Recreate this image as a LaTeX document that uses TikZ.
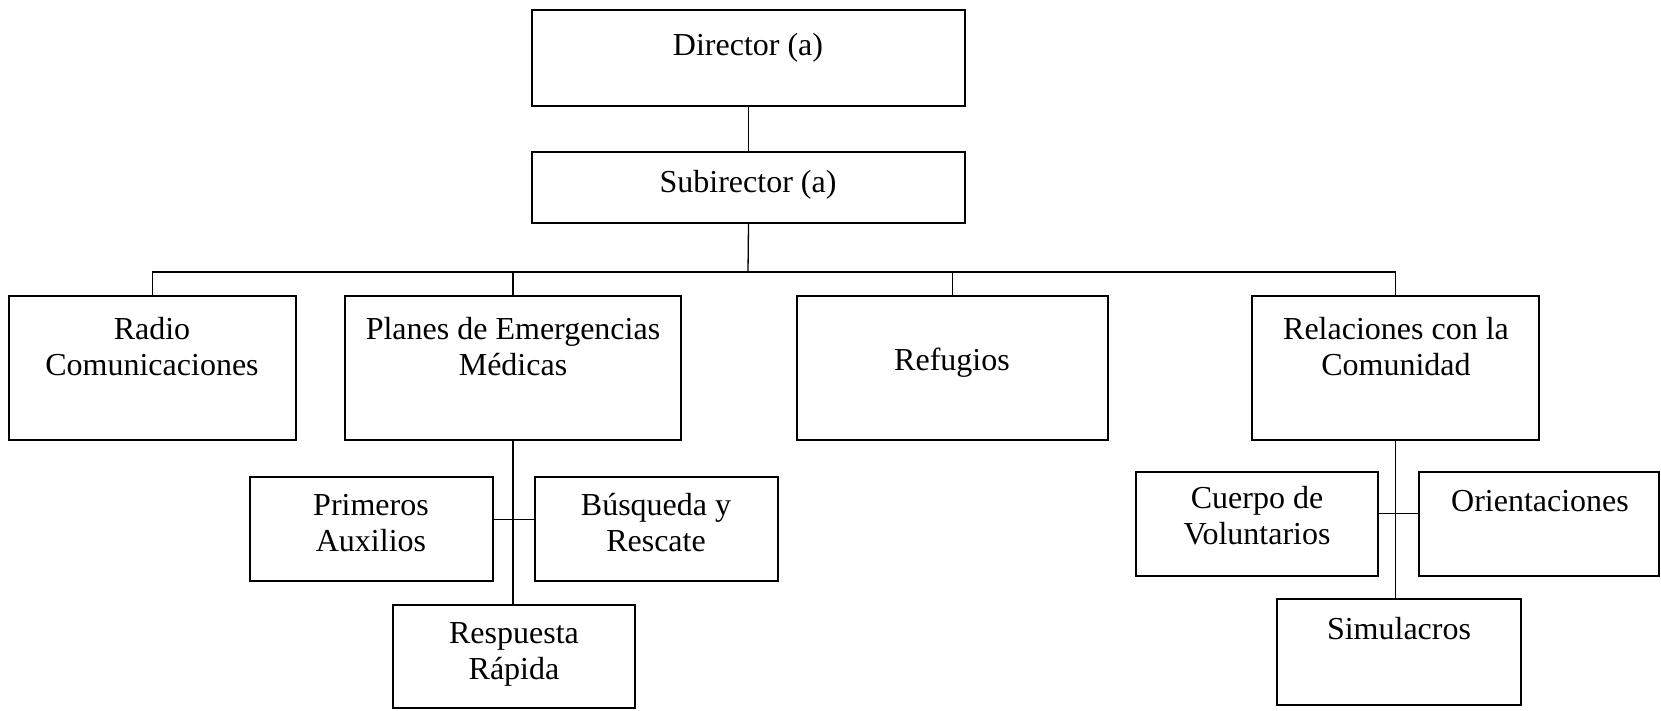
\documentclass[tikz,border=0pt]{standalone}
\usepackage{fontspec}
\setmainfont{Liberation Serif}
\begin{document}
\begin{tikzpicture}[x=1pt,y=-1pt,
  unit/.style={draw, line width=1.6pt, rectangle, inner sep=0pt},
  caption/.style={align=center, inner sep=0pt, font=\fontsize{32}{36}\selectfont},
  link/.style={line width=1.3pt}]
\useasboundingbox (0,0) rectangle (1661,710);

% boxes: corners given in page units, top-left origin
\newcommand\unitbox[5]{%
  \node[unit, minimum width={#4-#2}, minimum height={#5-#3}] (#1) at ({(#2+#4)/2},{(#3+#5)/2}) {};}

\unitbox{dir}{532}{10}{965}{106}
\unitbox{sub}{532}{152}{965}{223}
\unitbox{radio}{9}{296}{296}{440}
\unitbox{planes}{345}{296}{681}{440}
\unitbox{ref}{797}{296}{1108}{440}
\unitbox{rel}{1252}{296}{1539}{440}
\unitbox{prim}{250}{477}{493}{581}
\unitbox{busq}{535}{477}{778}{581}
\unitbox{resp}{393}{605}{635}{708}
\unitbox{cuer}{1136}{472}{1378}{576}
\unitbox{orient}{1419}{472}{1659}{576}
\unitbox{sim}{1277}{599}{1521}{705}

% texts
\node[caption] (tdir) at (748,48) {Director (a)};
\node[caption] (tsub) at (748,185) {Subirector (a)};
\node[caption] (tradio) at (152,347) {Radio\\Comunicaciones};
\node[caption] (tplanes) at (513,347) {Planes de Emergencias\\Médicas};
\node[caption] (tref) at (952,363) {Refugios};
\node[caption] (trel) at (1396,347) {Relaciones con la\\Comunidad};
\node[caption] (tprim) at (371,523) {Primeros\\Auxilios};
\node[caption] (tbusq) at (656,523) {Búsqueda y\\Rescate};
\node[caption] (tresp) at (514,654) {Respuesta\\Rápida};
\node[caption] (tcuer) at (1257,516) {Cuerpo de\\Voluntarios};
\node[caption] (torient) at (1540,501) {Orientaciones};
\node[caption] (tsim) at (1399,629) {Simulacros};

% connectors
\coordinate (bus) at (748,272);
\draw[link] (dir.south) -- (sub.north);
\draw[link] (sub.south) -- (bus);
\draw[link] (radio.north) |- (bus) -| (rel.north);
\draw[link] (planes.north) -- (planes.north |- bus);
\draw[link] (ref.north) -- (ref.north |- bus);

\draw[link] (planes.south) -- (planes.south |- resp.north);
\draw[link] ([yshift=-43pt]prim.north east) -- ([yshift=-43pt]busq.north west);

\draw[link] (rel.south) -- (rel.south |- sim.north);
\draw[link] ([yshift=-42pt]cuer.north east) -- ([yshift=-42pt]orient.north west);
\end{tikzpicture}
\end{document}
